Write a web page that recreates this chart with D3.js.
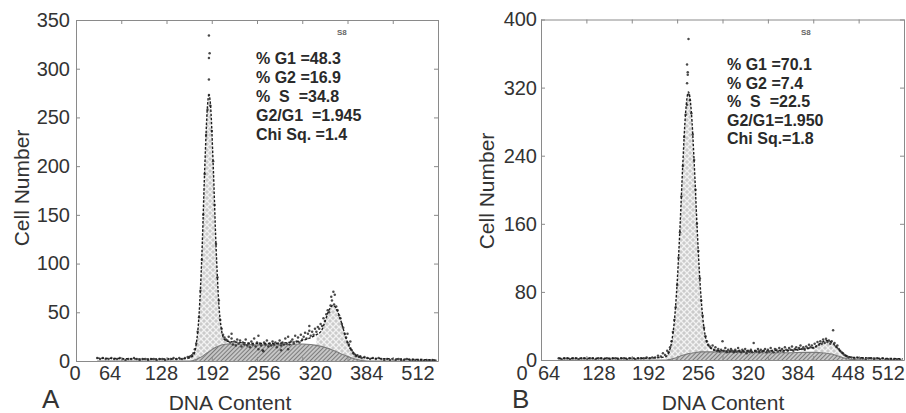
<!DOCTYPE html>
<html><head><meta charset="utf-8">
<script src="https://cdn.jsdelivr.net/npm/d3@7"></script>
<style>
html,body{margin:0;padding:0;background:#fff;}
svg{display:block;font-family:"Liberation Sans",Arial,Helvetica,sans-serif;}
</style></head><body>
<svg id="chart" width="906" height="413"></svg>
<script>
// ---------- Panel A data ----------
const dnaA   = [30,60,100,140,156,162,166,170,174,178,182,186,188,190,194,198,202,206,210,216,224,240,260,280,300,320,332,340,347,352,356,360,363,367,373,378,383,388,392,398,404,412,430,460,490,510];
const fitA   = [3,2.5,2,2,2.5,3.5,6,17,47,108,196,262,273,265,202,119,59,31,22,20,19.5,18.5,18,18,19,21,24,27,31,40,49,55,57,55,45,33,21,13,9,5,4,3,2.5,2,1.5,1];
const sPhaseA= [0,0,0,0,0,0,0.5,1.5,3,4.5,6.5,8.5,9.5,10.5,12.5,14,15.5,16.5,17,17.5,17.5,17,16.5,16.5,17,17.5,17,16,15,14,13,12,11,10,8,6.5,5,3.5,2.5,1.5,0.5,0,0,0,0,0];
const g1RangeA = [160,216];
const g2RangeA = [340,412];
const rawA = [
 [30,3],[34,2],[38,3],[42,2],[46,2],[50,3],[54,2],[58,2],[62,3],[66,2],[70,1],[74,2],[78,2],[82,3],[86,2],[90,1],[94,2],[98,2],[102,1],[106,2],[110,2],[114,1],[118,2],[122,2],[126,1],[130,2],[134,2],[138,3],[142,2],[146,3],[150,2],[154,3],[158,4],
 [160,4],[162,5],[164,6],[166,8],[168,12],[170,18],[172,30],[174,45],[176,72],[178,104],[180,150],[182,192],[184,232],[186,258],[188,289],[188,311],[189,316],[188,334],[188,273],[190,262],[192,236],[194,205],[196,160],[198,120],[200,86],[202,62],[204,42],[206,33],[208,27],[210,24],[212,22],
 [214,21],[216,25],[218,19],[220,23],[220,28],[222,17],[224,20],[226,16],[228,22],[230,18],[232,21],[234,15],[236,19],[238,17],[240,22],[242,16],[244,18],[246,14],[248,20],[250,17],[252,23],[254,15],[256,19],[258,12],[258,26],[260,18],[262,16],[264,11],[265,10],[266,19],[268,17],[270,21],[272,15],[274,18],[276,16],[278,20],[280,17],[282,19],[284,14],[286,18],[288,21],[290,16],[290,11],[292,19],[294,17],[296,23],[298,18],[300,25],[300,12],[302,17],[304,20],[306,22],[308,18],[310,26],[312,20],[314,24],[316,19],[318,27],[320,22],[322,25],[324,29],[326,23],[328,28],[330,31],[330,36],[332,26],[334,30],[336,27],[338,33],
 [340,30],[342,35],[344,33],[346,38],[348,36],[350,44],[352,41],[354,48],[356,52],[358,50],[360,57],[361,66],[362,62],[364,71],[365,58],[366,68],[368,56],[370,52],[372,47],[374,44],[376,38],[378,34],[380,28],[382,24],[384,19],[384,28],[386,17],[388,13],[388,20],[390,11],[392,8],[394,7],[396,5],[398,6],[400,4],[402,5],[404,3],
 [408,4],[412,3],[416,2],[420,3],[424,2],[428,3],[432,2],[436,1],[440,2],[444,1],[448,2],[452,1],[456,2],[460,1],[464,1],[468,2],[472,1],[476,1],[480,1],[484,1],[488,1],[492,0.5],[496,1],[500,0.5],[504,1],[508,0.5]
];
const yTicksA = [0,50,100,150,200,250,300,350];
const xLabelsA = ["0","64","128","192","256","320","384","512"];
const statsA = ["% G1 =48.3","% G2 =16.9","%  S  =34.8","G2/G1  =1.945","Chi Sq. =1.4"];

// ---------- Panel B data ----------
const dnaB   = [25,60,100,140,160,170,176,180,184,188,192,196,200,204,208,212,216,220,224,228,232,236,242,250,270,290,310,330,350,370,385,395,402,410,418,425,432,440,460,480,510];
const fitB   = [2,2,2,2,2.5,3,4,8.5,20,45,90,155,230,291,315,292,233,159,95,51,27,17,12.5,11,10.5,10.5,10.5,11,11.5,13,15,20,23,20.5,14,8,4.5,3,2.5,2,1.5];
const sPhaseB= [0,0,0,0,0,0,0,0.5,1,2,3,4.5,5.5,6.5,7.5,8,8.5,9,9.5,9.5,9.5,9.5,9.5,9.5,9,9,8.5,8.5,8.5,9,9,8.5,8,7,5,3,1.5,0.5,0,0,0];
const g1RangeB = [174,240];
const g2RangeB = [380,432];
const rawB = [
 [25,2],[29,1],[33,2],[37,2],[41,1],[45,2],[49,2],[53,1],[57,2],[61,2],[65,1],[69,2],[73,2],[77,1],[81,2],[85,2],[89,1],[93,2],[97,1],[101,2],[105,2],[109,1],[113,2],[117,2],[121,1],[125,2],[129,2],[133,1],[137,2],[141,2],[145,2],[149,3],[153,2],[157,3],[161,3],[165,5],[169,4],[172,8],[175,6],
 [178,11],[180,9],[182,15],[184,22],[186,33],[188,47],[190,62],[192,88],[194,120],[196,150],[198,192],[200,228],[202,262],[204,288],[206,300],[206,325],[207,335],[207,338],[206,347],[208,377],[208,312],[210,305],[212,290],[214,265],[216,235],[218,200],[220,160],[222,128],[224,96],[226,70],[228,52],[230,38],[232,28],[234,22],[236,18],
 [238,16],[240,14],[242,17],[244,12],[246,15],[248,11],[250,13],[252,10],[254,12],[256,22],[258,11],[260,14],[262,9],[264,12],[266,10],[268,13],[270,11],[272,9],[274,12],[276,10],[278,14],[280,11],[282,9],[284,12],[286,10],[288,13],[290,8],[292,11],[294,10],[296,12],[298,9],[300,20],[302,11],[304,10],[306,13],[308,9],[310,12],[312,10],[314,11],[316,13],[318,9],[320,12],[322,10],[324,14],[326,11],[328,9],[330,13],[332,12],[334,10],[336,14],[338,11],[340,13],[342,10],[344,15],[346,12],[348,11],[350,14],[352,12],[354,16],[356,11],[358,13],[360,15],[362,12],[364,14],[366,17],[368,13],[370,15],
 [372,12],[374,16],[376,14],[378,18],[380,15],[382,17],[384,14],[386,19],[388,16],[390,21],[392,18],[394,22],[396,19],[398,24],[400,20],[402,25],[404,21],[406,23],[408,19],[410,22],[412,35],[414,20],[416,16],[418,17],[420,13],[422,11],[424,9],[426,8],[428,6],[430,5],[432,4],[434,3],
 [438,3],[442,2],[446,3],[450,2],[454,2],[458,1],[462,2],[466,2],[470,1],[474,2],[478,1],[482,2],[486,1],[490,1],[494,1],[498,1],[502,1],[506,0.5]
];
const yTicksB = [0,80,160,240,320,400];
const xLabelsB = ["0","64","128","192","256","320","384","448","512"];
const statsB = ["% G1 =70.1","% G2 =7.4","%  S  =22.5","G2/G1=1.950","Chi Sq.=1.8"];

const dnaTicks = [0,64,128,192,256,320,384,448,512];
const dnaDomain = [0,512];

// ---------- layout (positions only) ----------
const panels = [
  {letter:"A", dna:dnaA, fit:fitA, s:sPhaseA, raw:rawA, g1:g1RangeA, g2:g2RangeA, yMax:350, yTicks:yTicksA, xLabels:xLabelsA, stats:statsA,
   box:{l:76,r:438,t:20,b:361}, zeroX:75, labelRange:[110,418], yPad:6,
   yTitleX:29, yTitleY:188, xTitleX:230, letterX:42, statsX:256, statsY:64, statsStep:19, tagX:337},
  {letter:"B", dna:dnaB, fit:fitB, s:sPhaseB, raw:rawB, g1:g1RangeB, g2:g2RangeB, yMax:400, yTicks:yTicksB, xLabels:xLabelsB, stats:statsB,
   box:{l:541,r:904,t:19.5,b:360}, zeroX:522, labelRange:[549,898], yPad:4,
   yTitleX:494, yTitleY:191, xTitleX:723, letterX:512, statsX:727, statsY:70, statsStep:18.6, tagX:801}
];
const W = 906;

const svg = d3.select("#chart");
const defs = svg.append("defs");
const cross = defs.append("pattern").attr("id","cross").attr("patternUnits","userSpaceOnUse").attr("width",6).attr("height",6);
cross.append("rect").attr("width",6).attr("height",6).attr("fill","#cbcbcb");
cross.append("path").attr("d","M0,0L6,6M6,0L0,6").attr("stroke","#f2f2f2").attr("stroke-width",1.3);
const hatch = defs.append("pattern").attr("id","hatch").attr("patternUnits","userSpaceOnUse").attr("width",3).attr("height",3).attr("patternTransform","rotate(45)");
hatch.append("rect").attr("width",3).attr("height",3).attr("fill","#c6c6c6");
hatch.append("line").attr("x1",0.5).attr("y1",0).attr("x2",0.5).attr("y2",3).attr("stroke","#7c7c7c").attr("stroke-width",1);

const FONT = '"Liberation Sans",Arial,Helvetica,sans-serif';
const axisCol = "#8a8a8a";

panels.forEach((p, pi) => {
  const b = p.box;
  const x = d3.scaleLinear().domain(dnaDomain).range([b.l, b.r]);
  const y = d3.scaleLinear().domain([0, p.yMax]).range([b.b, b.t]);
  const g = svg.append("g");

  const clipId = "clip" + pi;
  defs.append("clipPath").attr("id", clipId).append("rect")
    .attr("x", b.l).attr("y", b.t - 2).attr("width", b.r - b.l).attr("height", b.b - b.t + 2);
  const plot = g.append("g").attr("clip-path", `url(#${clipId})`);

  const pts = p.dna.map((d, i) => ({x: d, fit: p.fit[i], s: p.s[i]}));

  plot.append("path").datum(pts)
    .attr("d", d3.area().x(d => x(d.x)).y0(y(0)).y1(d => y(d.s)).curve(d3.curveMonotoneX))
    .attr("fill", "url(#hatch)");

  [p.g1, p.g2].forEach(r => {
    const sub = pts.filter(d => d.x >= r[0] && d.x <= r[1]);
    plot.append("path").datum(sub)
      .attr("d", d3.area().x(d => x(d.x)).y0(d => y(d.s)).y1(d => y(d.fit)).curve(d3.curveMonotoneX))
      .attr("fill", "url(#cross)");
  });

  plot.append("path").datum(pts)
    .attr("d", d3.line().x(d => x(d.x)).y(d => y(d.s)).curve(d3.curveMonotoneX))
    .attr("fill", "none").attr("stroke", "#7a7a7a").attr("stroke-width", 1.1);

  plot.selectAll("circle.raw").data(p.raw).join("circle").attr("class","raw")
    .attr("cx", d => x(d[0])).attr("cy", d => y(d[1])).attr("r", 1.25)
    .attr("fill", "#2a2a2a").attr("opacity", 0.85);

  plot.append("path").datum(pts)
    .attr("d", d3.line().x(d => x(d.x)).y(d => y(d.fit)).curve(d3.curveMonotoneX))
    .attr("fill", "none").attr("stroke", "#1e1e1e").attr("stroke-width", 1.4)
    .attr("stroke-dasharray", "2.5,1.6");

  const style = sel => {
    sel.attr("font-family", FONT);
    sel.select(".domain").attr("stroke", axisCol);
    sel.selectAll(".tick line").attr("stroke", axisCol);
  };
  g.append("g").attr("transform", `translate(${b.l},0)`)
    .call(d3.axisLeft(y).tickValues(p.yTicks).tickSize(-4).tickSizeOuter(0).tickPadding(p.yPad))
    .call(style)
    .call(sel => sel.selectAll("text").attr("font-size", 20).attr("fill", "#333"));
  g.append("g").attr("transform", `translate(${b.r},0)`)
    .call(d3.axisRight(y).tickValues(p.yTicks).tickSize(-4).tickSizeOuter(0).tickFormat(""))
    .call(style);
  g.append("g").attr("transform", `translate(0,${b.t})`)
    .call(d3.axisTop(x).tickValues(dnaTicks).tickSize(-4).tickSizeOuter(0).tickFormat(""))
    .call(style);
  g.append("g").attr("transform", `translate(0,${b.b})`)
    .call(d3.axisBottom(x).tickValues(dnaTicks).tickSize(-4).tickSizeOuter(0).tickFormat(""))
    .call(style);

  const lp = d3.scalePoint().domain(p.xLabels.slice(1)).range(p.labelRange);
  g.selectAll("text.xl").data(p.xLabels).join("text").attr("class","xl")
    .attr("x", (d, i) => i === 0 ? p.zeroX : lp(d)).attr("y", 380)
    .attr("text-anchor", "middle").attr("font-size", 20).attr("fill", "#333")
    .attr("font-family", FONT).text(d => d)
    .each(function() {
      const w = this.getComputedTextLength();
      const cx = +this.getAttribute("x");
      if (cx + w / 2 > W - 1) this.setAttribute("x", W - 1 - w / 2);
    });

  g.append("text").attr("transform", `translate(${p.yTitleX},${p.yTitleY}) rotate(-90)`)
    .attr("text-anchor", "middle").attr("font-size", 21).attr("fill", "#333")
    .attr("font-family", FONT).text("Cell Number");
  g.append("text").attr("x", p.xTitleX).attr("y", 410)
    .attr("text-anchor", "middle").attr("font-size", 21).attr("fill", "#333")
    .attr("font-family", FONT).text("DNA Content");
  g.append("text").attr("x", p.letterX).attr("y", 408)
    .attr("font-size", 26).attr("fill", "#333").attr("font-family", FONT).text(p.letter);

  g.selectAll("text.st").data(p.stats).join("text").attr("class","st")
    .attr("x", p.statsX).attr("y", (d, i) => p.statsY + i * p.statsStep)
    .attr("font-size", 16).attr("font-weight", "bold").attr("fill", "#2a2a2a")
    .attr("font-family", FONT).style("white-space", "pre").text(d => d);

  g.append("text").attr("x", p.tagX).attr("y", 35)
    .attr("font-size", 8).attr("font-weight", "bold").attr("fill", "#666")
    .attr("font-family", FONT).text("S8");
});
</script>
</body></html>
